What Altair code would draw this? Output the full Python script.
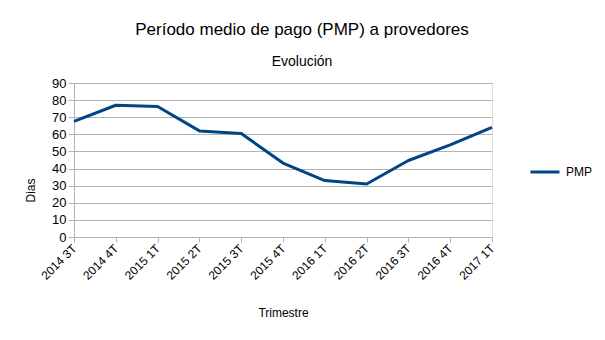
import altair as alt
import pandas as pd

trimestres = ["2014 3T", "2014 4T", "2015 1T", "2015 2T", "2015 3T", "2015 4T",
              "2016 1T", "2016 2T", "2016 3T", "2016 4T", "2017 1T"]
pmp = [67.6, 77.0, 76.3, 62.0, 60.5, 43.2, 33.0, 31.0, 44.7, 53.8, 64.1]
serie = ["PMP"] * len(trimestres)

df = pd.DataFrame({"Trimestre": trimestres, "Dias": pmp, "Serie": serie})

FONT = "Liberation Sans"
GRID = "#b3b3b3"

chart = alt.Chart(df).mark_line(strokeWidth=3, strokeJoin="round").encode(
    x=alt.X("Trimestre:N", sort=trimestres,
            scale=alt.Scale(type="point", padding=0),
            axis=alt.Axis(title="Trimestre", labelAngle=-45, labelAlign="right",
                          labelBaseline="middle", labelPadding=4, labelFontSize=12,
                          labelFont=FONT, labelColor="#000000",
                          tickSize=5, tickColor=GRID, domainColor=GRID,
                          titleFont=FONT, titleFontSize=12, titleFontWeight="normal",
                          titleColor="#000000", titleY=70, titleX=209,
                          grid=False)),
    y=alt.Y("Dias:Q", scale=alt.Scale(domain=[0, 90], nice=False),
            axis=alt.Axis(title="Dias", values=list(range(0, 91, 10)),
                          labelFontSize=13, labelFont=FONT, labelColor="#000000",
                          labelPadding=2, tickSize=6, tickColor=GRID,
                          domainColor=GRID, gridColor=GRID,
                          titleFont=FONT, titleFontSize=12, titleFontWeight="normal",
                          titleColor="#000000", titleAngle=-90, titleX=-44,
                          titleY=107, titleAlign="center", titleBaseline="middle")),
    color=alt.Color("Serie:N", scale=alt.Scale(range=["#004586"]),
                    legend=alt.Legend(title=None, orient="none", legendX=455,
                                      legendY=73, symbolType="stroke",
                                      symbolStrokeWidth=3, symbolSize=841,
                                      labelFont=FONT, labelFontSize=12,
                                      labelColor="#000000", labelOffset=5)),
).properties(
    width=418,
    height=154,
    title=alt.TitleParams(text="Período medio de pago (PMP) a provedores",
                          subtitle="Evolución", font=FONT, fontSize=17,
                          fontWeight="normal", color="#000000",
                          subtitleFont=FONT, subtitleFontSize=14,
                          subtitleColor="#000000", subtitlePadding=16,
                          anchor="middle", dx=19, offset=7),
    autosize=alt.AutoSizeParams(type="none"),
    padding={"left": 74, "top": 83, "right": 113, "bottom": 103},
).configure_view(stroke=GRID, strokeWidth=1).configure(background="white")

chart.save("out.html", embed_options={"renderer": "svg", "actions": False})
